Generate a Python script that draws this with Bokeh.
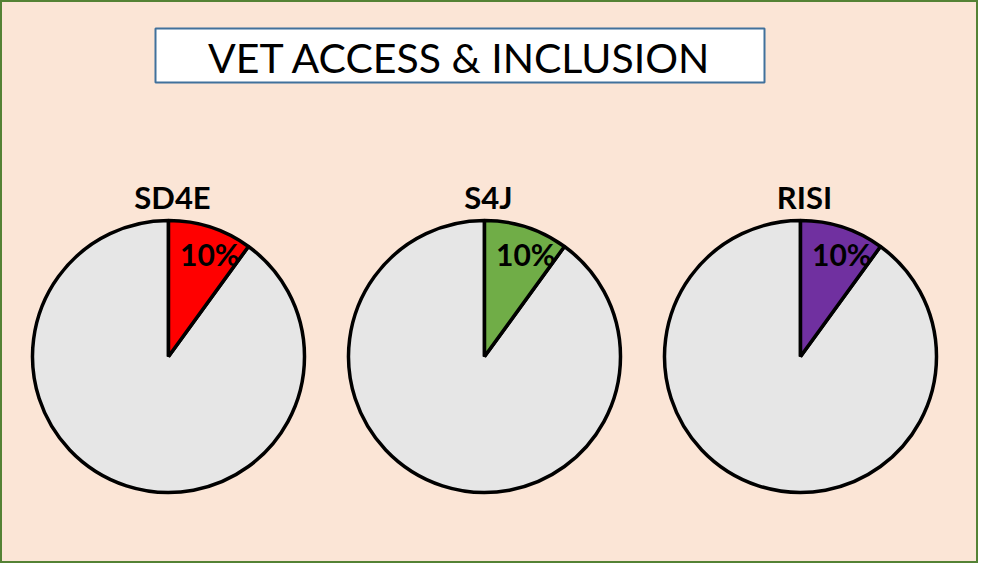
import math
from bokeh.plotting import figure
from bokeh.models import Range1d
from bokeh.core.properties import value
from bokeh.embed import file_html
from bokeh.resources import INLINE

# ---- data ----
title_text = "VET ACCESS & INCLUSION"
programs = ["SD4E", "S4J", "RISI"]
shares = [10, 10, 10]  # percent
slice_colors = ["#FF0000", "#70AD47", "#7030A0"]
rest_color = "#E6E6E6"

# ---- layout (pixel space, y measured from top) ----
PW, PH = 978, 563
centers_x = [168, 484, 800]
center_y = 356
radius = 136

def Y(y):  # convert top-down pixel y into plot y
    return PH - y

p = figure(width=PW, height=PH, output_backend="svg", toolbar_location=None,
           x_range=Range1d(0, PW), y_range=Range1d(0, PH),
           min_border=0)
p.axis.visible = False
p.grid.visible = False
p.background_fill_color = "#FBE5D6"
p.border_fill_color = "#FBE5D6"
p.outline_line_color = "#548235"
p.outline_line_width = 3

# title box
p.rect(x=[459.5], y=[Y(55)], width=609, height=54, fill_color="white",
       line_color="#41719C", line_width=2)
p.text(x=[459.5], y=[Y(57)], text=[title_text], text_align="center",
       text_baseline="middle", text_font=value("Lato"), text_font_size="41px",
       text_color="black")

for cx, name, share, col in zip(centers_x, programs, shares, slice_colors):
    a_end = math.pi / 2
    a_start = a_end - 2 * math.pi * share / 100
    # remainder
    p.wedge(x=[cx], y=[Y(center_y)], radius=radius, start_angle=a_end,
            end_angle=a_start + 2 * math.pi, direction="anticlock",
            fill_color=rest_color, line_color="black", line_width=3.5)
    # share slice
    p.wedge(x=[cx], y=[Y(center_y)], radius=radius, start_angle=a_start,
            end_angle=a_end, direction="anticlock",
            fill_color=col, line_color="black", line_width=3.5)
    # label
    ang = math.radians(68)
    lx = cx + 0.81 * radius * math.cos(ang)
    ly = Y(center_y) + 0.81 * radius * math.sin(ang)
    p.text(x=[lx], y=[ly], text=[f"{share}%"], text_align="center",
           text_baseline="middle", text_font=value("Lato"),
           text_font_style="bold", text_font_size="30px", text_color="black")
    # name
    p.text(x=[cx + 4], y=[Y(196)], text=[name], text_align="center",
           text_baseline="middle", text_font=value("Lato"),
           text_font_style="bold", text_font_size="31px", text_color="black")

open("out.html", "w").write(file_html(p, INLINE))
